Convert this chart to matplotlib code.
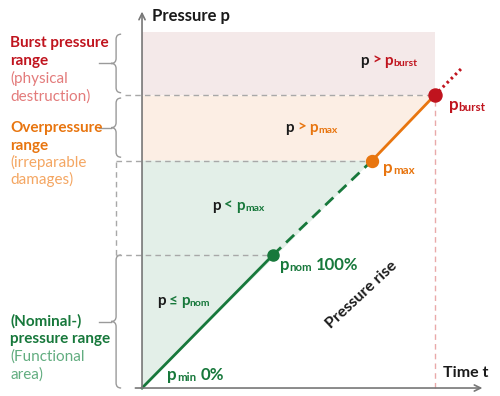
import matplotlib.pyplot as plt
from matplotlib.path import Path
from matplotlib.patches import PathPatch, Rectangle

plt.rcParams['font.family'] = ['Lato', 'DejaVu Sans']

# ---------------- data ----------------
# pressure levels in % of nominal: p_min, p_nom, p_max, p_burst
levels = [0, 100, 171, 220]
# time at which the rising pressure reaches each level
times = [0, 98.5, 173, 220]
p_top = 268          # upper edge of the burst band
overshoot = [241, 241]   # (t, p) end of the dotted line past p_burst
# --------------------------------------

RED, RED_L = '#c0141e', '#e37b7b'
ORANGE, ORANGE_L = '#e8750f', '#f4a662'
GREEN, GREEN_L = '#17783b', '#62ad80'
GREY = '#a8a8a8'
INK = '#1a1a1a'

p_min, p_nom, p_max, p_burst = levels
t_min, t_nom, t_max, t_burst = times

fig = plt.figure(figsize=(5, 3.96), dpi=100)
ax = fig.add_axes([0, 0, 1, 1])
ax.set_xlim(-106.8, 269.2)
ax.set_ylim(-6.0, 291.7)
ax.axis('off')

# range bands
ax.add_patch(Rectangle((0, p_burst), t_burst, p_top - p_burst,
                       color='#f4e9e9', lw=0, zorder=0))
ax.fill([0, t_max, t_burst, 0], [p_max, p_max, p_burst, p_burst],
        color='#fceee4', lw=0, zorder=0)
ax.fill([0, t_max, 0], [p_min, p_max, p_max], color='#e3efe8', lw=0, zorder=0)

# guide lines
dash = (0, (4, 3))
x_guide = -19.5
ax.plot([-13, t_burst], [p_burst] * 2, color=GREY, lw=1, ls=dash)
ax.plot([x_guide, t_max], [p_max] * 2, color=GREY, lw=1, ls=dash)
ax.plot([x_guide, t_nom], [p_nom] * 2, color=GREY, lw=1, ls=dash)
ax.plot([x_guide] * 2, [p_nom, p_max], color=GREY, lw=1, ls=dash)
ax.plot([t_burst] * 2, [p_min, p_burst], color='#e9a9a9', lw=1, ls=dash)

# axes
arrow = dict(arrowstyle='->,head_length=0.45,head_width=0.22', color='#777777',
             lw=1.2, shrinkA=0, shrinkB=0)
ax.annotate('', xy=(0, 283), xytext=(0, p_min), arrowprops=arrow)
ax.annotate('', xy=(256, 0), xytext=(-5, 0), arrowprops=arrow)

# pressure rise line
ax.plot(times[:2], levels[:2], color=GREEN, lw=2)
ax.plot(times[1:3], levels[1:3], color=GREEN, lw=2, ls=(0, (4, 2.5)))
ax.plot(times[2:4], levels[2:4], color=ORANGE, lw=2)
ax.plot([t_burst, overshoot[0]], [p_burst, overshoot[1]], color=RED, lw=2.2,
        ls=(0, (0.8, 1.1)))
ax.plot(t_nom, p_nom, 'o', color=GREEN, ms=8)
ax.plot(t_max, p_max, 'o', color=ORANGE, ms=8.6)
ax.plot(t_burst, p_burst, 'o', color=RED, ms=9.4)


def brace(x, lo, hi, w=3.8, tick=9):
    mid = (lo + hi) / 2
    verts = [(x + w, hi), (x, hi), (x, hi - w), (x, mid + w), (x, mid), (x - w, mid),
             (x, mid), (x, mid - w), (x, lo + w), (x, lo), (x + w, lo)]
    C3 = Path.CURVE3
    codes = [Path.MOVETO, C3, C3, Path.LINETO, C3, C3, C3, C3, Path.LINETO, C3, C3]
    ax.add_patch(PathPatch(Path(verts, codes), fc='none', ec='#9a9a9a', lw=1))
    ax.plot([x - w, x - w - tick], [mid, mid], color='#9a9a9a', lw=1)


brace(x_guide, p_burst + 2, p_top - 2)
brace(x_guide, p_max + 2.5, p_burst - 2)
brace(x_guide, p_min, p_nom)


def rich(t, p, parts, size=11):
    """parts: (text, colour, is_subscript, gap in points before it)"""
    prev = None
    for s, color, sub, gap in parts:
        kw = dict(color=color, fontsize=size * 0.68 if sub else size,
                  fontweight='bold', va='baseline', ha='left')
        if prev is None:
            prev = ax.text(t, p, s, **kw)
        else:
            prev = ax.annotate(s, xy=(1, p), xycoords=(prev, 'data'),
                               xytext=(gap, -0.8 if sub else 0),
                               textcoords='offset points', **kw)


# left side labels
left = -99.2
labels = [
    ('Burst pressure', RED, 'bold', 256.2), ('range', RED, 'bold', 242.9),
    ('(physical', RED_L, 'normal', 229.3), ('destruction)', RED_L, 'normal', 216.0),
    ('Overpressure', ORANGE, 'bold', 192.5), ('range', ORANGE, 'bold', 179.3),
    ('(irreparable', ORANGE_L, 'normal', 166.2), ('damages)', ORANGE_L, 'normal', 153.0),
    ('(Nominal-)', GREEN, 'bold', 46.8), ('pressure range', GREEN, 'bold', 34.1),
    ('(Functional', GREEN_L, 'normal', 20.5), ('area)', GREEN_L, 'normal', 7.3),
]
for s, c, w, p in labels:
    ax.text(left, p, s, color=c, fontweight=w, fontsize=11, va='baseline')

ax.text(7.5, 279.7, 'Pressure p', color=INK, fontweight='bold', fontsize=12,
        va='center')
ax.text(226.5, 8.5, 'Time t', color=INK, fontweight='bold', fontsize=11.5,
        va='baseline')
ax.text(165.4, 69.9, 'Pressure rise', color=INK, fontweight='bold', fontsize=11.5,
        rotation=43, ha='center', va='center')

rich(163.9, 242.9, [('p', INK, 0, 0), ('>', RED, 0, 2.5), ('p', RED, 0, 2.5),
                    ('burst', RED, 1, 0)])
rich(107.5, 192.7, [('p', INK, 0, 0), ('>', ORANGE, 0, 2.5), ('p', ORANGE, 0, 2.5),
                    ('max', ORANGE, 1, 0)])
rich(52.6, 133.8, [('p', INK, 0, 0), ('<', GREEN, 0, 2.5), ('p', GREEN, 0, 2.5),
                   ('max', GREEN, 1, 0)])
rich(11.0, 62.4, [('p', INK, 0, 0), ('≤', GREEN, 0, 2.5), ('p', GREEN, 0, 2.5),
                  ('nom', GREEN, 1, 0)])
rich(19.0, 6.0, [('p', GREEN, 0, 0), ('min', GREEN, 1, 0), ('0%', GREEN, 0, 3)],
     size=12.2)
rich(103.8, 88.7, [('p', GREEN, 0, 0), ('nom', GREEN, 1, 0), ('100%', GREEN, 0, 3)],
     size=12)
rich(181.4, 161.4, [('p', ORANGE, 0, 0), ('max', ORANGE, 1, 0)], size=12.2)
rich(230.8, 209.0, [('p', RED, 0, 0), ('burst', RED, 1, 0)], size=12.2)

fig.savefig('out.png', dpi=100)
